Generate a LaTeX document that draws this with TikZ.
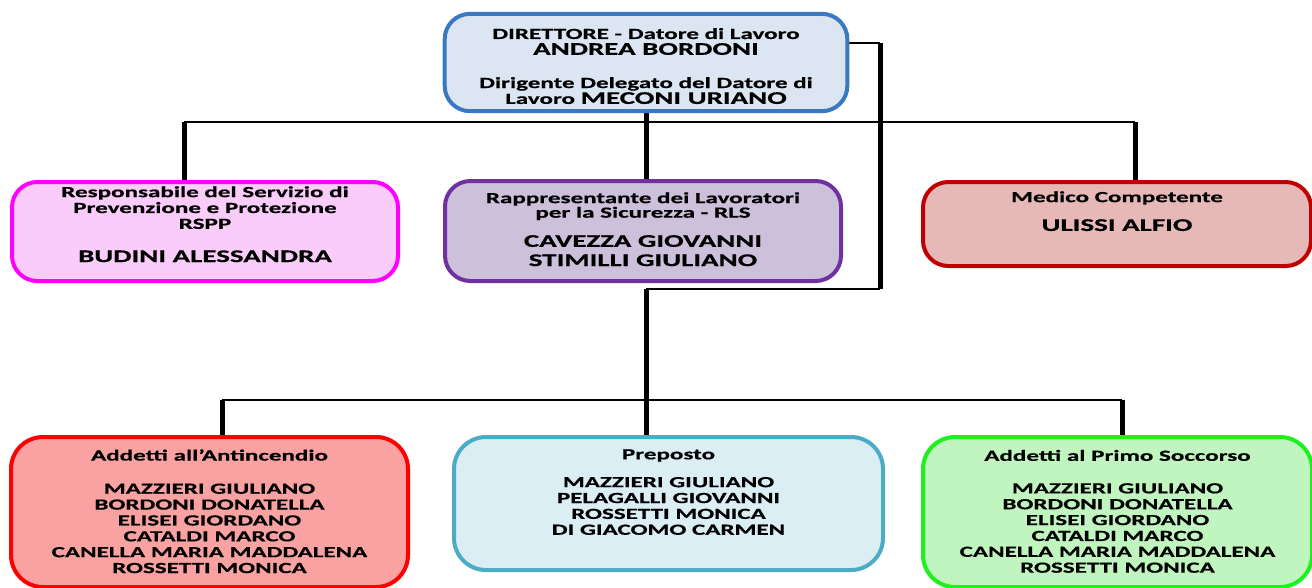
\documentclass[tikz,border=0pt]{standalone}
\usepackage{fontspec}
\newfontfamily\orgfont[FakeStretch=1.62,FakeBold=0.6]{Carlito}
\usetikzlibrary{positioning,backgrounds}

\definecolor{dirline}{RGB}{58,120,196}
\definecolor{dirfill}{RGB}{220,230,242}
\definecolor{rsppline}{RGB}{255,0,255}
\definecolor{rsppfill}{RGB}{250,204,250}
\definecolor{rlsline}{RGB}{112,48,160}
\definecolor{rlsfill}{RGB}{204,192,218}
\definecolor{medline}{RGB}{192,0,0}
\definecolor{medfill}{RGB}{230,185,184}
\definecolor{fireline}{RGB}{255,0,0}
\definecolor{firefill}{RGB}{250,162,162}
\definecolor{prepline}{RGB}{75,172,198}
\definecolor{prepfill}{RGB}{219,238,244}
\definecolor{aidline}{RGB}{30,240,30}
\definecolor{aidfill}{RGB}{192,245,192}

\newcommand{\orgsmall}{\fontsize{11.6}{11.9}\selectfont}
\newcommand{\orglarge}{\fontsize{13.4}{11.9}\selectfont}

\begin{document}
\begin{tikzpicture}[x=0.75pt,y=-0.75pt,
  orgbox/.style={line width=3pt,rounded corners=19pt,inner sep=0pt},
  boxtext/.style={anchor=north,align=center,inner sep=0pt,font=\orgfont\bfseries\orgsmall},
  thinline/.style={line width=1.6pt},
  thickline/.style={line width=3.75pt}]
\useasboundingbox (0,0) rectangle (1312,587);

% top level
\node[orgbox,draw=dirline,fill=dirfill,minimum width=302pt,minimum height=73pt] (dir) at (646,62.5) {};
\node[boxtext] (dirtxt) at ([yshift=-12pt]dir.north) {DIRETTORE - Datore di Lavoro\\
  {\orglarge ANDREA BORDONI}\\[13pt]
  Dirigente Delegato del Datore di\\
  Lavoro {\orglarge MECONI URIANO}};

% second row
\node[orgbox,draw=rsppline,fill=rsppfill,minimum width=289.5pt,minimum height=74.25pt] (rspp) at (205,231.5) {};
\node[boxtext] (rspptxt) at ([yshift=-4.5pt]rspp.north) {Responsabile del Servizio di\\
  Prevenzione e Protezione\\
  RSPP\\[13pt]
  {\orglarge BUDINI ALESSANDRA}};

\node[orgbox,draw=rlsline,fill=rlsfill,minimum width=297pt,minimum height=75pt] (rls) at (643,231) {};
\node[boxtext] (rlstxt) at ([yshift=-9.75pt]rls.north) {Rappresentante dei Lavoratori\\[-1pt]
  per la Sicurezza - RLS\\[10pt]
  {\orglarge CAVEZZA GIOVANNI}\\[2.5pt]
  {\orglarge STIMILLI GIULIANO}};

\node[orgbox,draw=medline,fill=medfill,minimum width=291pt,minimum height=63pt] (med) at (1117,224) {};
\node[boxtext] (medtxt) at ([yshift=-8.25pt]med.north) {Medico Competente\\[9.7pt]
  {\orglarge ULISSI ALFIO}};

% third row
\node[orgbox,rounded corners=24pt,draw=fireline,fill=firefill,minimum width=297.75pt,minimum height=112.5pt] (fire) at (209.5,512) {};
\node[boxtext] (firetxt) at ([yshift=-10.5pt]fire.north) {Addetti all’Antincendio\\[13pt]
  MAZZIERI GIULIANO\\ BORDONI DONATELLA\\ ELISEI GIORDANO\\
  CATALDI MARCO\\ CANELLA MARIA MADDALENA\\ ROSSETTI MONICA};

\node[orgbox,rounded corners=24pt,draw=prepline,fill=prepfill,minimum width=321.75pt,minimum height=99.75pt] (prep) at (668.5,503.5) {};
\node[boxtext] (preptxt) at ([yshift=-10.5pt]prep.north) {Preposto\\[9pt]
  MAZZIERI GIULIANO\\ PELAGALLI GIOVANNI\\ ROSSETTI MONICA\\ DI GIACOMO CARMEN};

\node[orgbox,rounded corners=24pt,draw=aidline,fill=aidfill,minimum width=291.75pt,minimum height=112.5pt] (aid) at (1117.5,512) {};
\node[boxtext] (aidtxt) at ([yshift=-11pt]aid.north) {Addetti al Primo Soccorso\\[12.5pt]
  MAZZIERI GIULIANO\\ BORDONI DONATELLA\\ ELISEI GIORDANO\\
  CATALDI MARCO\\ CANELLA MARIA MADDALENA\\ ROSSETTI MONICA};

% connectors
\coordinate (busL) at (184,122);
\coordinate (busR) at (1135,122);
\coordinate (tap) at ([yshift=14.6pt]dir.east);
\coordinate (loopR) at (880,289);
\coordinate (loopT) at (loopR |- tap);
\coordinate (drop) at (646,289);
\coordinate (busBL) at (222,400);
\coordinate (busBR) at (1122,400);
\begin{scope}[on background layer]
\draw[thinline] (busL) -- (busR);
\draw[thickline] (busL) -- (busL |- rspp.north);
\draw[thickline] (busR) -- (busR |- med.north);
\draw[thickline] (dir.south) -- (dir.south |- rls.north);
\draw[thinline] (tap) -- (loopT);
\draw[thickline] (loopT) -- (loopR);
\draw[thinline] (loopR) -- (drop);
\draw[thickline] (drop) -- (drop |- prep.north);
\draw[thinline] (busBL) -- (busBR);
\draw[thickline] (busBL) -- (busBL |- fire.north);
\draw[thickline] (busBR) -- (busBR |- aid.north);
\end{scope}
\end{tikzpicture}
\end{document}
